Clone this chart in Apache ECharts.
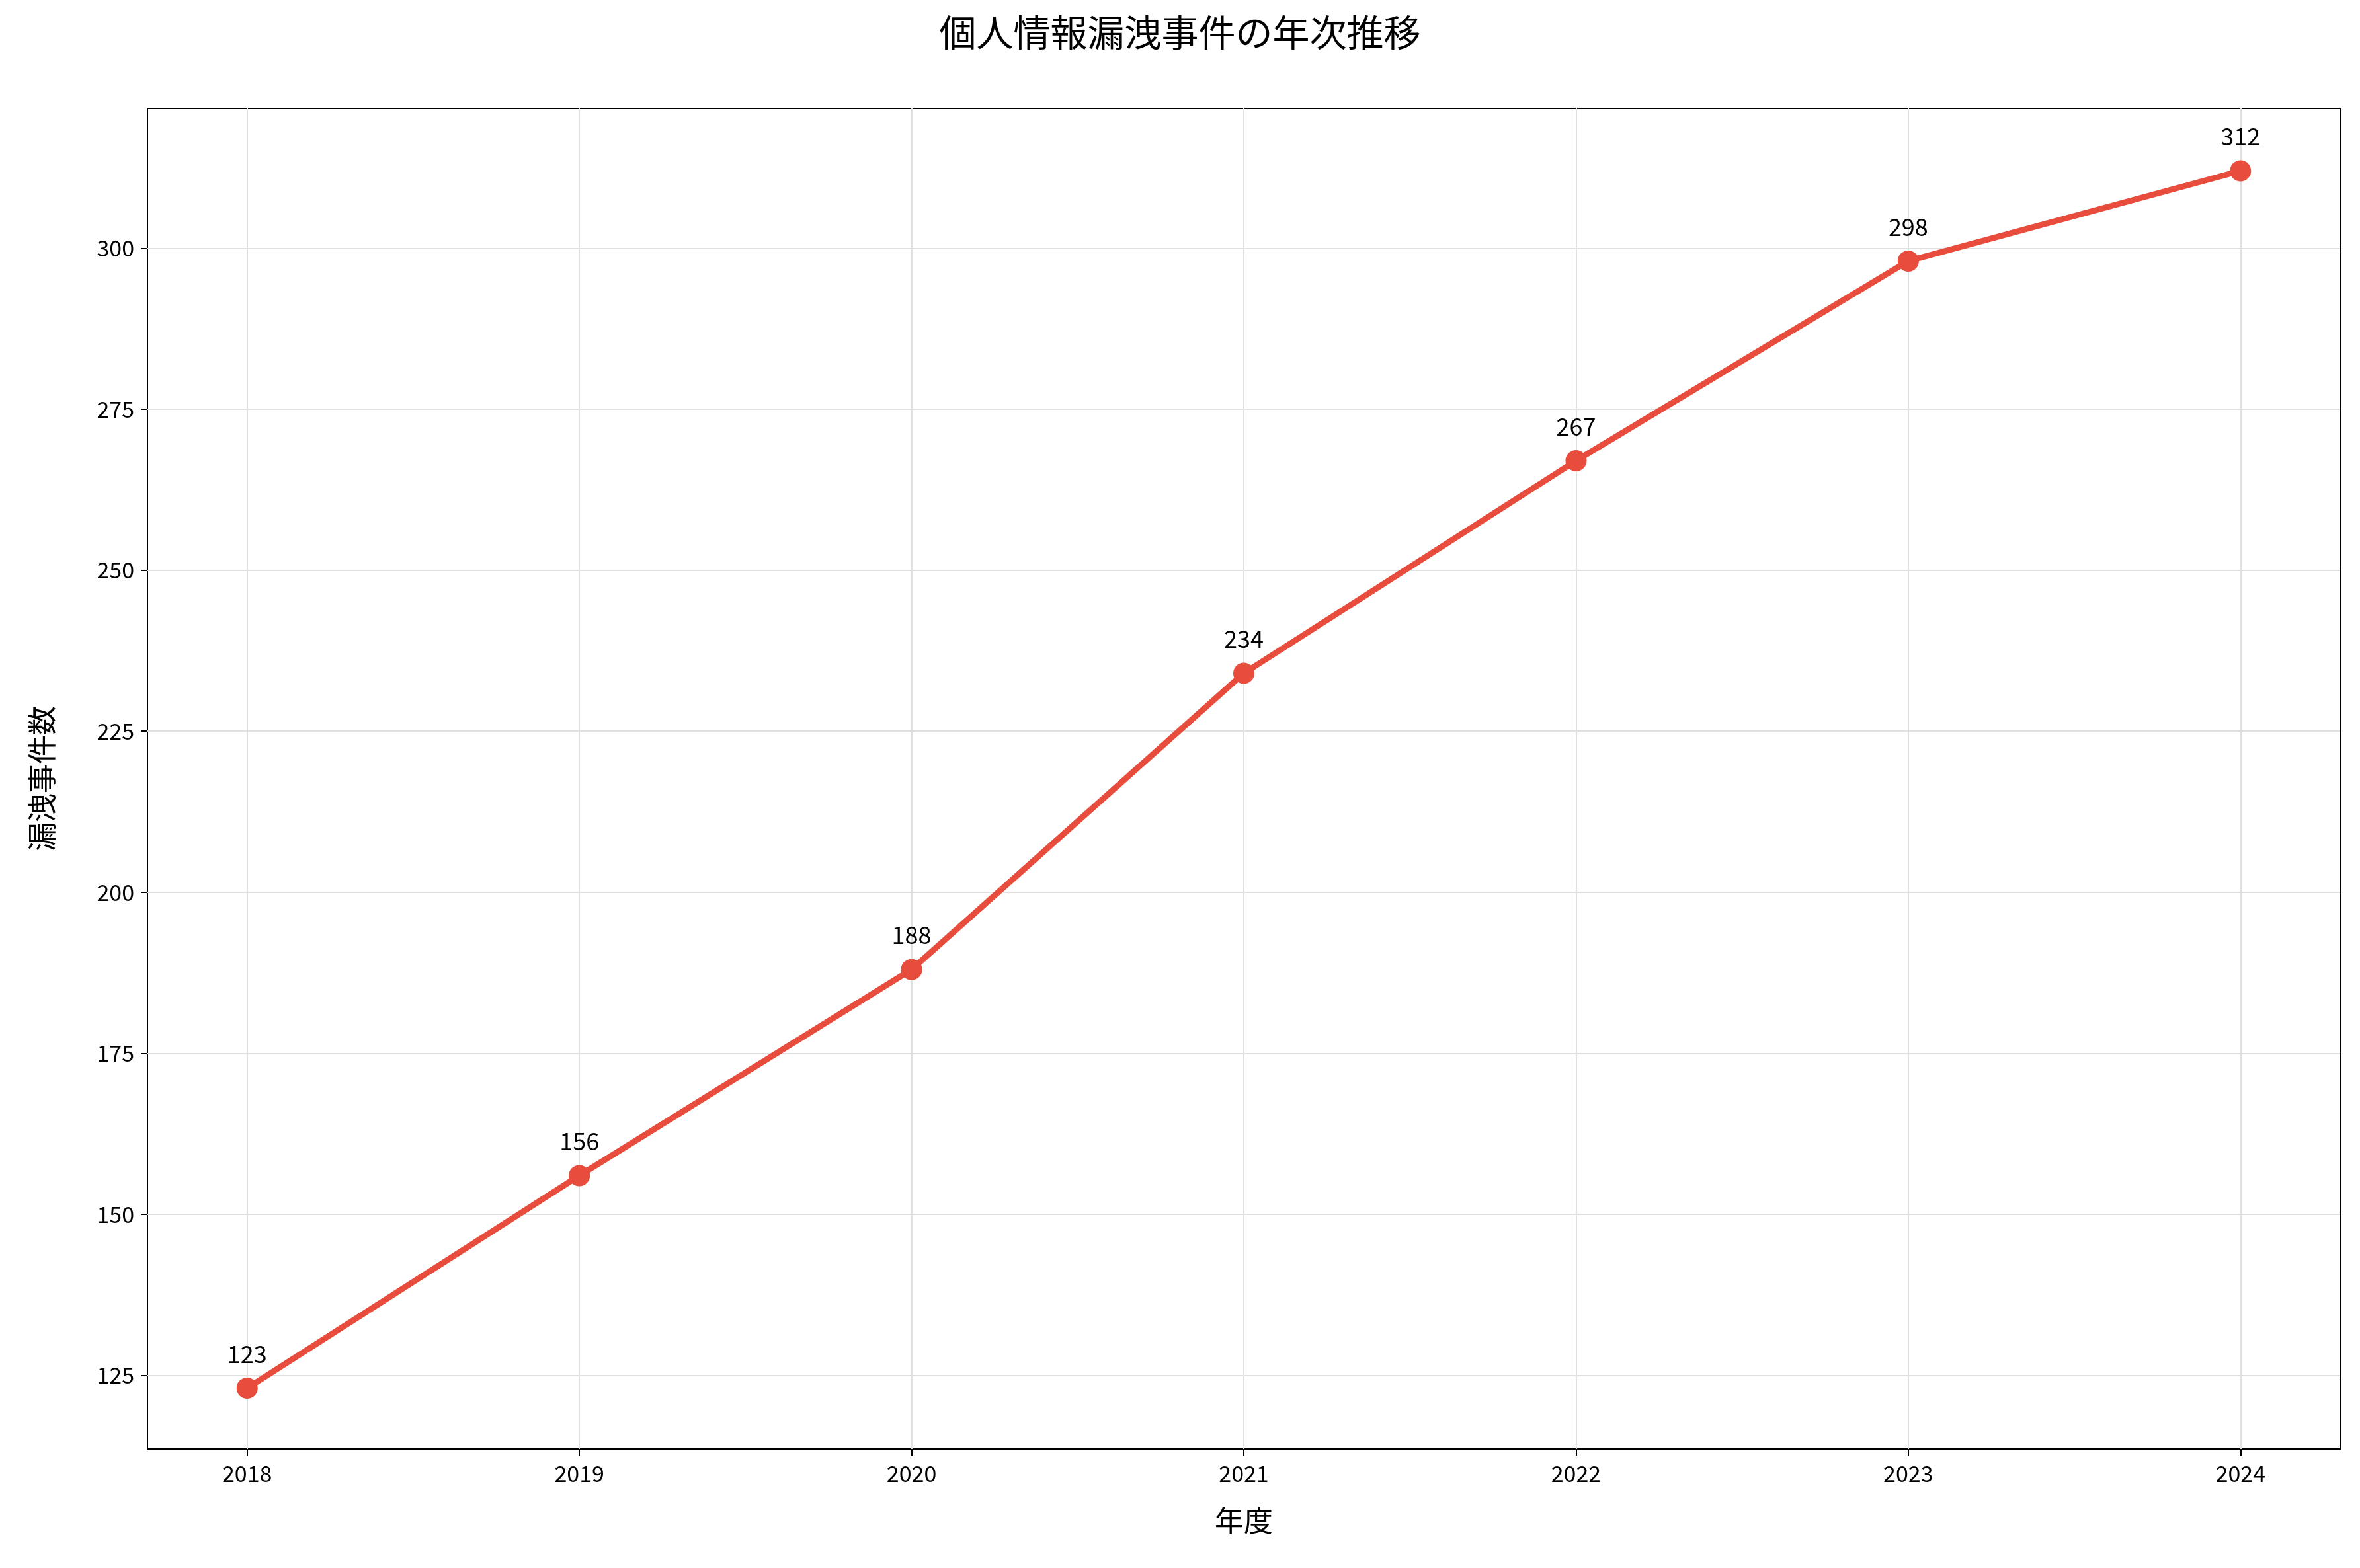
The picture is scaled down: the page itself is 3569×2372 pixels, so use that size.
<!DOCTYPE html>
<html>
<head>
<meta charset="utf-8">
<script src="https://cdn.jsdelivr.net/npm/echarts@6/dist/echarts.min.js"></script>
<style>html,body{margin:0;padding:0;background:#fff}#chart{width:3569px;height:2372px}</style>
</head>
<body>
<div id="chart"></div>
<script>
// 年度ごとの件数
const years = [2018, 2019, 2020, 2021, 2022, 2023, 2024]
const counts = [123, 156, 188, 234, 267, 298, 312]
const yTicks = [125, 150, 175, 200, 225, 250, 275, 300]

const font = 'Noto Sans CJK JP'
const chart = echarts.init(document.getElementById('chart'))
const gridLine = { color: '#e0e0e0', width: 2, type: 'solid' }

chart.setOption({
  backgroundColor: '#fff',
  animation: false,
  title: {
    text: '個人情報漏洩事件の年次推移',
    left: 'center',
    top: 16,
    textStyle: { fontFamily: font, fontSize: 56, fontWeight: 'normal', color: '#000' }
  },
  grid: { left: 223, right: 30, top: 164, bottom: 180 },
  xAxis: {
    type: 'value',
    min: 2017.7,
    max: 2024.3,
    name: '年度',
    nameLocation: 'middle',
    nameGap: 86,
    nameTextStyle: { fontFamily: font, fontSize: 44, color: '#000' },
    axisLine: { show: true, onZero: false, lineStyle: { color: '#000', width: 2 } },
    axisTick: { show: true, length: 10, customValues: years, lineStyle: { color: '#000', width: 2 } },
    axisLabel: { customValues: years, formatter: v => String(v), fontFamily: font, fontSize: 34, color: '#000', margin: 20 },
    splitLine: { show: false }
  },
  yAxis: {
    type: 'value',
    min: 113.55,
    max: 321.7,
    name: '漏洩事件数',
    nameLocation: 'middle',
    nameGap: 138,
    nameTextStyle: { fontFamily: font, fontSize: 44, color: '#000' },
    axisLine: { show: true, lineStyle: { color: '#000', width: 2 } },
    axisTick: { show: true, length: 10, customValues: yTicks, lineStyle: { color: '#000', width: 2 } },
    axisLabel: { customValues: yTicks, fontFamily: font, fontSize: 34, color: '#000', margin: 20 },
    splitLine: { show: false }
  },
  series: [
    {
      type: 'line',
      data: years.map((y, i) => [y, counts[i]]),
      symbol: 'circle',
      symbolSize: 32,
      lineStyle: { color: '#e74c3c', width: 9 },
      itemStyle: { color: '#e74c3c' },
      label: {
        show: true,
        position: 'top',
        distance: 18,
        formatter: p => p.value[1],
        fontFamily: font,
        fontSize: 36,
        color: '#000'
      },
      z: 3,
      markLine: {
        silent: true,
        symbol: 'none',
        label: { show: false },
        lineStyle: gridLine,
        z: 1,
        data: yTicks.map(v => ({ yAxis: v })).concat(years.map(v => ({ xAxis: v })))
      }
    }
  ]
})
// 右と上の枠線
chart.setOption({
  graphic: [{
    type: 'rect',
    shape: { x: 223, y: 164, width: 3569 - 223 - 30, height: 2372 - 164 - 180 },
    style: { fill: 'none', stroke: '#000', lineWidth: 2 },
    silent: true
  }]
})
</script>
</body>
</html>
